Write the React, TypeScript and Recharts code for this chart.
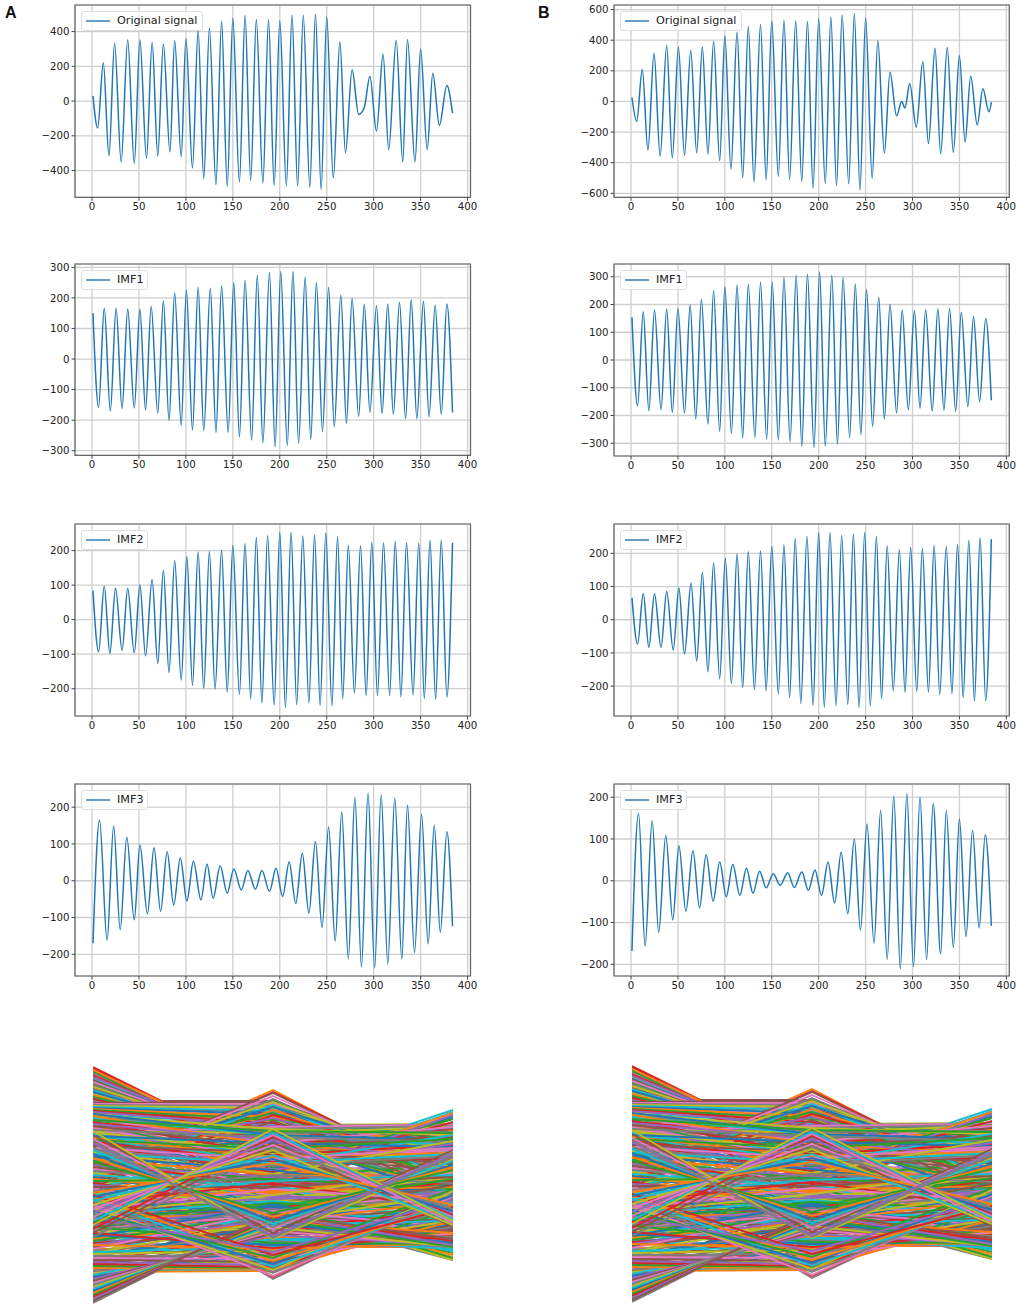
import { CartesianGrid, Line, LineChart, ReferenceArea, XAxis, YAxis } from 'recharts';

type Pt = [number, number];

// turning points: [sample, amplitude]
const originalA: Pt[] = [[1,30],[6,-155],[12,220],[18,-315],[24,333],[31,-350],[38,353],[45,-360],[51,353],[58,-330],[64,338],[70,-315],[76,328],[83,-292],[88,348],[95,-320],[100,358],[107,-385],[113,405],[119,-447],[125,419],[132,-480],[138,460],[144,-490],[150,477],[157,-465],[163,492],[169,-456],[175,470],[182,-472],[188,468],[194,-485],[200,463],[207,-487],[213,494],[219,-490],[225,494],[232,-495],[238,500],[244,-508],[250,484],[257,-442],[264,342],[270,-297],[277,180],[284,-77],[290,-37],[296,142],[303,-173],[310,270],[316,-280],[324,350],[331,-350],[336,355],[344,-350],[350,300],[357,-280],[363,160],[370,-140],[378,90],[384,-70]];
const imf1A: Pt[] = [[1,150],[7,-158],[13,166],[19.5,-170],[25.6,166],[32,-162],[38,164],[45,-160],[51,163],[57,-167],[63,172],[70,-177],[76,191],[82,-201],[88,216],[95,-217],[100.5,225],[107,-232],[113,235],[119,-234],[126,232],[132,-240],[138,239],[145,-240],[151,250],[157,-255],[163,257],[170,-265],[176,274],[182,-274],[189,282],[195,-288],[201,286],[208,-283],[214,286],[220,-275],[227,268],[233,-262],[239,250],[245.5,-237],[252,234],[258,-221],[265,209],[271,-210],[277,198],[284,-188],[290,179],[296,-174],[303,174],[309,-178],[315,180],[321,-181],[327.5,186],[334,-195],[340,195],[346,-195],[353,189],[359,-189],[365.5,176],[372,-181],[378,180],[384,-175]];
const imf2A: Pt[] = [[1,84],[7,-93],[13,97],[19,-98],[25,91],[32,-89],[38,90],[45,-96],[51,100],[57,-105],[64,116],[70,-127],[76,143],[82,-153],[88,171],[95,-175],[101,183],[107,-190],[113,196],[119,-199],[125,197],[131,-201],[138,201],[144,-209],[150,215],[157,-216],[163,220],[169,-229],[175,238],[181,-241],[187,243],[194,-247],[200,253],[206,-255],[212,253],[218,-246],[224.5,242],[231,-241],[237,245],[243,-248],[249,251],[255.5,-249],[261.5,240],[267,-229],[273,215],[279.5,-212],[286,214],[292,-220],[298,224],[304,-219],[310.5,222],[317,-219],[323,227],[329,-224],[335,223],[342,-218],[348,221],[354,-228],[360,230],[366,-231],[372,230],[378,-224],[384,223]];
const imf3A: Pt[] = [[1,-170],[8,165],[16,-162],[23,149],[30,-133],[37,118],[45,-106],[51,97],[59,-90],[66,90],[73,-83],[80,79],[87,-66],[94,62],[101,-55],[108,53],[116,-52],[122.5,45],[129,-47],[136.5,40],[144,-34],[151,32],[159,-25],[166,28],[174,-23],[181,28],[189,-29],[196,34],[203,-43],[210,51],[217,-62],[224,75],[231,-88],[238,107],[245,-127],[252,146],[259,-164],[266,186],[273,-212],[280,226],[287,-234],[294,238],[301,-237],[308,233],[315,-226],[322.5,224],[330,-213],[336,205],[343.5,-195],[351,181],[358,-171],[364.5,151],[371,-140],[378,133],[384,-124]];

const originalB: Pt[] = [[1,26],[6,-130],[12,210],[18,-318],[24.5,315],[31,-357],[38,365],[44,-368],[50.5,355],[57,-352],[63.6,332],[70,-335],[76,358],[82,-342],[88,394],[94.5,-387],[100,428],[106.5,-442],[113,452],[119,-498],[125,490],[131,-527],[138,503],[144,-512],[150,525],[157,-488],[163,530],[169,-510],[175.5,525],[182,-523],[188,523],[194,-567],[200,538],[207,-536],[213,551],[219,-551],[225,565],[232,-538],[238,573],[244,-578],[250,545],[257,-503],[263,398],[270,-337],[276,190],[283,-94],[288.5,0],[292,-42],[297,118],[304,-168],[311,260],[317,-275],[324,348],[330,-341],[337,352],[343.5,-333],[350,300],[356,-265],[362,164],[369,-153],[375,83],[381.5,-68],[384,-5]];
const imf1B: Pt[] = [[1,154],[7,-165],[13,174],[19,-183],[25,180],[32,-179],[38,184],[44,-189],[50,186],[57,-191],[63,198],[69,-212],[75,219],[82,-232],[88,250],[94.5,-257],[100,264],[107,-264],[113,270],[119,-280],[125,273],[132,-279],[138,280],[144.5,-285],[150.5,280],[157,-288],[163,297],[169.5,-294],[176,305],[182,-311],[188,309],[195,-315],[201,316],[207,-311],[214,305],[220,-303],[226,296],[233,-279],[239,274],[245,-269],[251,254],[257.5,-239],[264,226],[270,-213],[276,200],[283,-191],[289,180],[295.5,-179],[302,178],[308,-174],[314,181],[321,-184],[327,185],[333.5,-181],[339.5,185],[346,-185],[352,172],[359,-168],[365,157],[371.5,-150],[378,150],[384,-145]];
const imf2B: Pt[] = [[1,66],[7,-73],[13,79],[19,-83],[25,78],[32,-83],[38,86],[45,-91],[51,96],[57,-103],[64,110],[70,-125],[76,142],[82,-157],[88,171],[94.5,-178],[100.5,185],[107,-192],[113,198],[119,-204],[125,205],[131.5,-210],[138,207],[144,-214],[150,221],[157,-223],[163,225],[169,-234],[175,245],[181,-253],[187.5,251],[194,-258],[200,262],[206,-264],[212,263],[218.5,-259],[224.5,254],[231,-255],[237,258],[243,-264],[249,263],[255,-260],[261.5,251],[267,-238],[273,222],[279.5,-214],[286,211],[292,-218],[298,218],[304.5,-216],[310.5,215],[317,-218],[323,224],[329,-225],[336,221],[342,-223],[348,227],[354,-235],[360,239],[366,-245],[372,247],[378,-244],[384,243]];
const imf3B: Pt[] = [[1,-168],[8,161],[15,-156],[22.5,144],[29.5,-124],[37,108],[44.5,-94],[51,84],[58.5,-73],[66,72],[73,-65],[80,62],[87.5,-49],[94.5,45],[101.5,-38],[108.5,39],[116,-35],[123,30],[130,-30],[137,23],[144,-17],[151.5,17],[159,-11],[167,19],[174,-16],[182,21],[189,-23],[196,26],[203,-35],[210,44],[217,-53],[224,68],[231,-79],[238,100],[244.5,-118],[251.5,136],[259,-149],[266,168],[273,-188],[280,202],[287,-210],[294,208],[301,-205],[308,200],[315,-188],[322,185],[330,-175],[336,168],[343.5,-160],[350,148],[357,-134],[364,121],[371,-113],[377.5,110],[384,-108]];

const xTicks = [0, 50, 100, 150, 200, 250, 300, 350, 400];
const ticksOriginalA = [-400, -200, 0, 200, 400];
const ticksOriginalB = [-600, -400, -200, 0, 200, 400, 600];
const ticksImf1 = [-300, -200, -100, 0, 100, 200, 300];
const ticksImf23 = [-200, -100, 0, 100, 200];

// bottom panels: one row per trace, [first, middle, last] node.
// the two stacks are nearly the same at this resolution, so they share this table
const traces: number[][] = [
  [100,92,80],[96,88,70],[92,84,92],[88,80,64],[84,76,86],[80,72,74],[76,68,96],[72,64,82],[68,60,70],[64,66,98],[60,62,76],[56,58,88],[52,54,68],[48,50,80],[44,48,72],[40,44,94],[36,42,78],[33,40,90],[30,46,84],[27,50,76],[25,54,94],[23,58,68],[21,62,86],[19,66,72],
  [150,130,140],[145,118,115],[140,108,125],[135,126,135],[130,98,108],[125,116,126],[120,130,100],[115,102,118],[110,120,90],[105,94,128],[100,114,106],[95,128,118],[90,100,95],[125,90,100],[135,94,120],[145,100,105],[155,108,135],[115,86,92],[105,78,110],[95,72,88],[85,112,124],[75,106,98],[65,98,84],[130,134,150],[120,138,128],[110,140,145],[100,134,120],[90,126,138],[80,120,108],[140,140,160],[150,146,125],[160,150,140],
  [120,100,170],[110,92,160],[100,84,150],[130,110,182],[140,120,178],[125,125,190],[115,132,186],[105,118,172],[95,105,165],[85,95,155],[135,112,165],[145,124,175],[155,130,168],[90,78,145],[80,72,135],[70,66,125],[100,70,140],[110,62,130],[120,58,118],
  [35,100,70],[40,104,85],[45,110,62],[50,114,90],[55,120,76],[60,126,100],[65,130,82],[70,136,110],[75,140,95],[80,146,120],[85,150,100],[90,156,112],[60,112,70],[70,120,88],[50,96,74],[42,88,66],[56,104,94],[66,116,78],[76,128,104],[86,138,90],
  [195,100,140],[190,96,126],[186,92,150],[182,88,118],[178,84,135],[172,80,112],[168,86,142],[162,82,128],[156,75,136],[150,80,118],[146,74,130],[140,78,110],
  [215,150,130],[205,148,120],[198,140,112],[193,138,148],[188,134,126],[184,128,140],[180,124,118],[176,120,135],[172,116,110],[168,112,130],[164,108,104],[160,104,125],[156,100,115],[152,96,130],[148,90,108],[144,86,120],
  [203,200,146],[200,196,147],[198,193,156],[196,190,152],[194,187,164],[192,184,144],[190,181,160],[188,178,176],[186,175,150],[184,172,168],[182,169,155],[180,166,173],[178,163,142],[176,160,165],[174,157,178],[172,154,146],[170,151,160],[168,148,172],[166,145,150],[164,142,166],
  [237,148,152],[234,152,171],[232,149,144],[231,155,163],[229,151,137],[227,157,174],[226,153,150],[224,159,145],[222,156,166],[221,160,178],[219,158,139],[217,163,156],[216,160,172],[214,165,147],[212,167,160],[211,162,134],[209,170,152],[207,172,176],[205,175,142],
  [120,205,130],[125,198,118],[140,193,128],[118,188,110],[135,183,120],[128,178,100],[150,176,125],[115,172,112],[142,168,108],[110,165,115],[155,162,118],
  [34,60,64],[31,66,70],[29,68,60],[27,72,84],[25,68,66],[23,76,96],[21,78,78],[19,74,62],[17,82,70],[15,86,90],[13,80,64],[11,88,82],[9,90,60],[7,91,100],[3,92,58],
  [74,96,48],[60,90,54],[84,88,56],[92,94,50],[78,100,47],
  [120,28,110],[112,34,98],[125,40,104],[118,46,92],[116,52,96],[105,58,100],[98,62,90],[122,56,108],
  [235,151,166],[233,147,141],[230,153,176],[228,156,158],[225,150,134],[223,158,170],[220,154,148],[218,161,180],[215,157,162],
  [213,163,143],[210,159,174],[208,166,155],[206,162,168],[204,168,138],[202,203,138],[201,201,143],[200,199,147],[199,197,150],[198,194,141],
  [197,191,160],[196,188,156],[195,185,166],[194,182,136],[193,179,180],
  [136,212,124],[138,209,128],[133,206,128],[141,203,137],[130,200,126],[144,198,140],[127,195,132],[147,192,124],[124,190,143],[150,187,135],[121,184,122],
  [172,178,180],[168,176,179],[174,172,178],[170,128,193],[166,132,188],[180,130,192],[182,138,186],[160,133,183],[184,125,190],[164,128,177],[186,162,178],[188,172,173],[190,176,170],[187,170,160],
  [191,170,165],[189,160,150],[185,174,172],[183,150,160],[181,165,145],[179,158,168],[177,145,155],[175,168,163],[173,152,148],[171,141,170],
  [169,162,158],[167,148,152],[165,156,166],[163,143,146],[161,135,161],[159,153,142],[157,146,157],[155,139,149],[153,131,164],[151,142,151],
  [148,135,110],[146,130,126],[144,125,118],[142,120,130],[140,128,105],[138,115,122],[136,110,132],[134,122,112],[132,105,128],[130,118,102],
  [128,100,120],[126,112,135],[124,126,116],[122,96,124],[120,108,108],[118,118,128],[116,92,114],[114,130,122],[112,104,100],[110,124,130],
  [108,88,106],[106,114,118],[104,98,126],[102,122,96],[100,106,112],[98,90,120],[96,116,104],[94,84,98],[92,110,134],
  [90,104,88],[88,98,76],[86,92,70],[84,102,95],[82,86,82],[80,96,66],[78,80,100],[76,90,74],[74,95,108],[72,76,62],[70,88,90],[68,100,72],[66,82,104],[64,92,68],[62,74,96],[60,86,60],[58,78,86],[56,94,78],[54,70,92],[52,84,110],[50,66,64],[48,80,72],
  [46,68,70],[44,56,82],[42,74,62],[40,60,58],[38,70,76],[36,52,66],[34,64,60],[32,48,72],[30,66,56],[28,58,80],
  [37,36,84],[39,37,96],[41,38,88],[43,40,90],[45,43,80],[47,46,72],[49,50,78],[51,54,85],[53,58,65],
  [70,60,62],[60,56,62],[78,62,61],[72,57,69],
  [26,70,60],[24,72,74],[22,74,59],[20,76,68],[18,78,58],[16,80,84],[14,82,62],[12,84,72],[10,86,58],[8,88,64],[6,90,60],[4,91,66],
  [100,29,108],[104,32,106],[97,35,114],[106,38,103],[94,41,110],[108,44,100],[91,47,116],[110,50,98],[88,53,105],
  [170,72,155],[166,76,150],[158,78,148],[174,66,146],[155,81,144],[151,84,140],[147,88,138],[143,92,135],
  [76,168,90],[92,165,92],[72,162,78],[96,160,88],[68,157,96],[100,155,80],[104,150,84],[108,146,94],[112,142,100],
];

// outermost traces go underneath, so only the part on the outline shows
const outerTraces: number[][] = [
  [238,149,150],[236,150,160],[134,215,122],[133,213,126],[204,204,140],[176,180,181],[178,135,195],[175,134,192],
  [2,92,45],[5,92,60],[134,26,112],[130,29,108],[35,35,92],[33,34,88],[70,99,45],[66,93,52],[60,58,58],
];
const outerColors = [
  '#d62728', '#bcbd22', '#ff7f0e', '#d62728', '#8c564b', '#bcbd22', '#17becf', '#8c564b',
  '#7f7f7f', '#17becf', '#7f7f7f', '#bcbd22', '#17becf', '#ff7f0e', '#bcbd22', '#2ca02c', '#ff7f0e',
];

// the crossing arms stay on top
const armTraces: number[][] = [[84,172,86],[88,170,82],[80,176,84],[162,69,152],[164,67,150]];
const armColors = ['#17becf', '#e377c2', '#bcbd22', '#9467bd', '#7f7f7f'];

const TAB10 = ['#1f77b4', '#ff7f0e', '#2ca02c', '#d62728', '#9467bd', '#8c564b', '#e377c2', '#7f7f7f', '#bcbd22', '#17becf'];
const tickFont = { fontFamily: '"DejaVu Sans", sans-serif', fontSize: 10.2, fill: '#222' };
const minus = (v: number) => String(v).replace('-', '\u2212');

const X_MIN = -18.15;
const X_MAX = 403.15;

interface PanelProps {
  left: number;
  top: number;
  width: number;
  height: number;
  label: string;
  legendWidth: number;
  points: Pt[];
  yDomain: [number, number];
  yTicks: number[];
}

const SignalPanel = ({ left, top, width, height, label, legendWidth, points, yDomain, yTicks }: PanelProps) => {
  const data = points.map(([x, y]) => ({ x, y }));
  return (
    <div style={{ position: 'absolute', left: left - 44, top: top - 5, width: width + 56, height: height + 27 }}>
      <LineChart width={width + 56} height={height + 27} data={data} margin={{ top: 5, right: 12, left: 0, bottom: 0 }}>
        <CartesianGrid stroke="#cfcfcf" strokeWidth={1.3} />
        <XAxis
          dataKey="x"
          type="number"
          domain={[X_MIN, X_MAX]}
          ticks={xTicks}
          height={22}
          tick={tickFont}
          tickSize={3.5}
          tickLine={{ stroke: '#444' }}
          axisLine={false}
          interval={0}
          allowDataOverflow
        />
        <YAxis
          type="number"
          domain={yDomain}
          ticks={yTicks}
          width={44}
          tick={tickFont}
          tickSize={3.5}
          tickLine={{ stroke: '#444' }}
          axisLine={false}
          interval={0}
          tickFormatter={minus}
          allowDataOverflow
        />
        <ReferenceArea x1={X_MIN} x2={X_MAX} y1={yDomain[0]} y2={yDomain[1]} fill="none" stroke="#666" strokeWidth={1.2} fillOpacity={0} />
        <Line type="monotone" dataKey="y" stroke="#1f77b4" strokeWidth={1.5} dot={false} isAnimationActive={false} />
      </LineChart>
      <div
        style={{
          position: 'absolute',
          left: 50,
          top: 11,
          width: legendWidth,
          height: 20,
          boxSizing: 'border-box',
          border: '1px solid #ddd',
          borderRadius: 3,
          background: 'rgba(255,255,255,0.8)',
          fontFamily: '"DejaVu Sans", sans-serif',
          fontSize: 11.2,
          color: '#222',
          lineHeight: '18px',
          whiteSpace: 'nowrap',
        }}
      >
        <svg width={32} height={18} style={{ position: 'absolute', left: 0, top: 0 }}>
          <line x1={4} x2={28} y1={9} y2={9} stroke="#1f77b4" strokeWidth={1.4} />
        </svg>
        <span style={{ position: 'absolute', left: 35, top: 0 }}>{label}</span>
      </div>
    </div>
  );
};

const TracePanel = ({ left, top }: { left: number; top: number }) => {
  const data = [0, 1, 2].map((node) => {
    const row: Record<string, number> = { node };
    outerTraces.forEach((t, i) => {
      row[`o${i}`] = t[node];
    });
    traces.forEach((t, i) => {
      row[`s${i}`] = t[node];
    });
    armTraces.forEach((t, i) => {
      row[`a${i}`] = t[node];
    });
    return row;
  });
  return (
    <div style={{ position: 'absolute', left, top }}>
      <LineChart width={360} height={240} data={data} margin={{ top: 0, right: 0, left: 0, bottom: 0 }}>
        <XAxis dataKey="node" type="number" domain={[0, 2]} hide />
        <YAxis type="number" domain={[0, 240]} hide />
        {outerTraces.map((_, i) => (
          <Line key={`o${i}`} type="linear" dataKey={`o${i}`} stroke={outerColors[i]} strokeWidth={1.9} dot={false} isAnimationActive={false} />
        ))}
        {traces.map((_, i) => (
          <Line key={`s${i}`} type="linear" dataKey={`s${i}`} stroke={TAB10[i % 10]} strokeWidth={1.9} dot={false} isAnimationActive={false} />
        ))}
        {armTraces.map((_, i) => (
          <Line key={`a${i}`} type="linear" dataKey={`a${i}`} stroke={armColors[i]} strokeWidth={1.9} dot={false} isAnimationActive={false} />
        ))}
      </LineChart>
    </div>
  );
};

const letter = { position: 'absolute', top: 4, fontFamily: '"Liberation Sans", Arial, sans-serif', fontWeight: 700, fontSize: 16, color: '#111' } as const;

export default function App() {
  return (
    <div style={{ position: 'absolute', left: 0, top: 0, width: 1021, height: 1308, background: '#fff', overflow: 'hidden' }}>
      <div style={{ ...letter, left: 5 }}>A</div>
      <div style={{ ...letter, left: 538 }}>B</div>

      <SignalPanel left={75} top={5} width={395.5} height={192.3} label="Original signal" legendWidth={122} points={originalA} yDomain={[-554, 553]} yTicks={ticksOriginalA} />
      <SignalPanel left={75} top={264} width={395.5} height={191.3} label="IMF1" legendWidth={67} points={imf1A} yDomain={[-315, 311]} yTicks={ticksImf1} />
      <SignalPanel left={75} top={524} width={395.5} height={192} label="IMF2" legendWidth={67} points={imf2A} yDomain={[-279, 277]} yTicks={ticksImf23} />
      <SignalPanel left={75} top={784.3} width={395.5} height={192} label="IMF3" legendWidth={67} points={imf3A} yDomain={[-259, 263]} yTicks={ticksImf23} />

      <SignalPanel left={614} top={5} width={395.3} height={192.3} label="Original signal" legendWidth={122} points={originalB} yDomain={[-626, 630]} yTicks={ticksOriginalB} />
      <SignalPanel left={614} top={264} width={395.3} height={192} label="IMF1" legendWidth={67} points={imf1B} yDomain={[-346, 346]} yTicks={ticksImf1} />
      <SignalPanel left={614} top={524} width={395.3} height={192} label="IMF2" legendWidth={67} points={imf2B} yDomain={[-290, 288.5]} yTicks={ticksImf23} />
      <SignalPanel left={614} top={784} width={395.3} height={192} label="IMF3" legendWidth={67} points={imf3B} yDomain={[-228, 231.6]} yTicks={ticksImf23} />

      <TracePanel left={93} top={1065} />
      <TracePanel left={632} top={1064} />
    </div>
  );
}
